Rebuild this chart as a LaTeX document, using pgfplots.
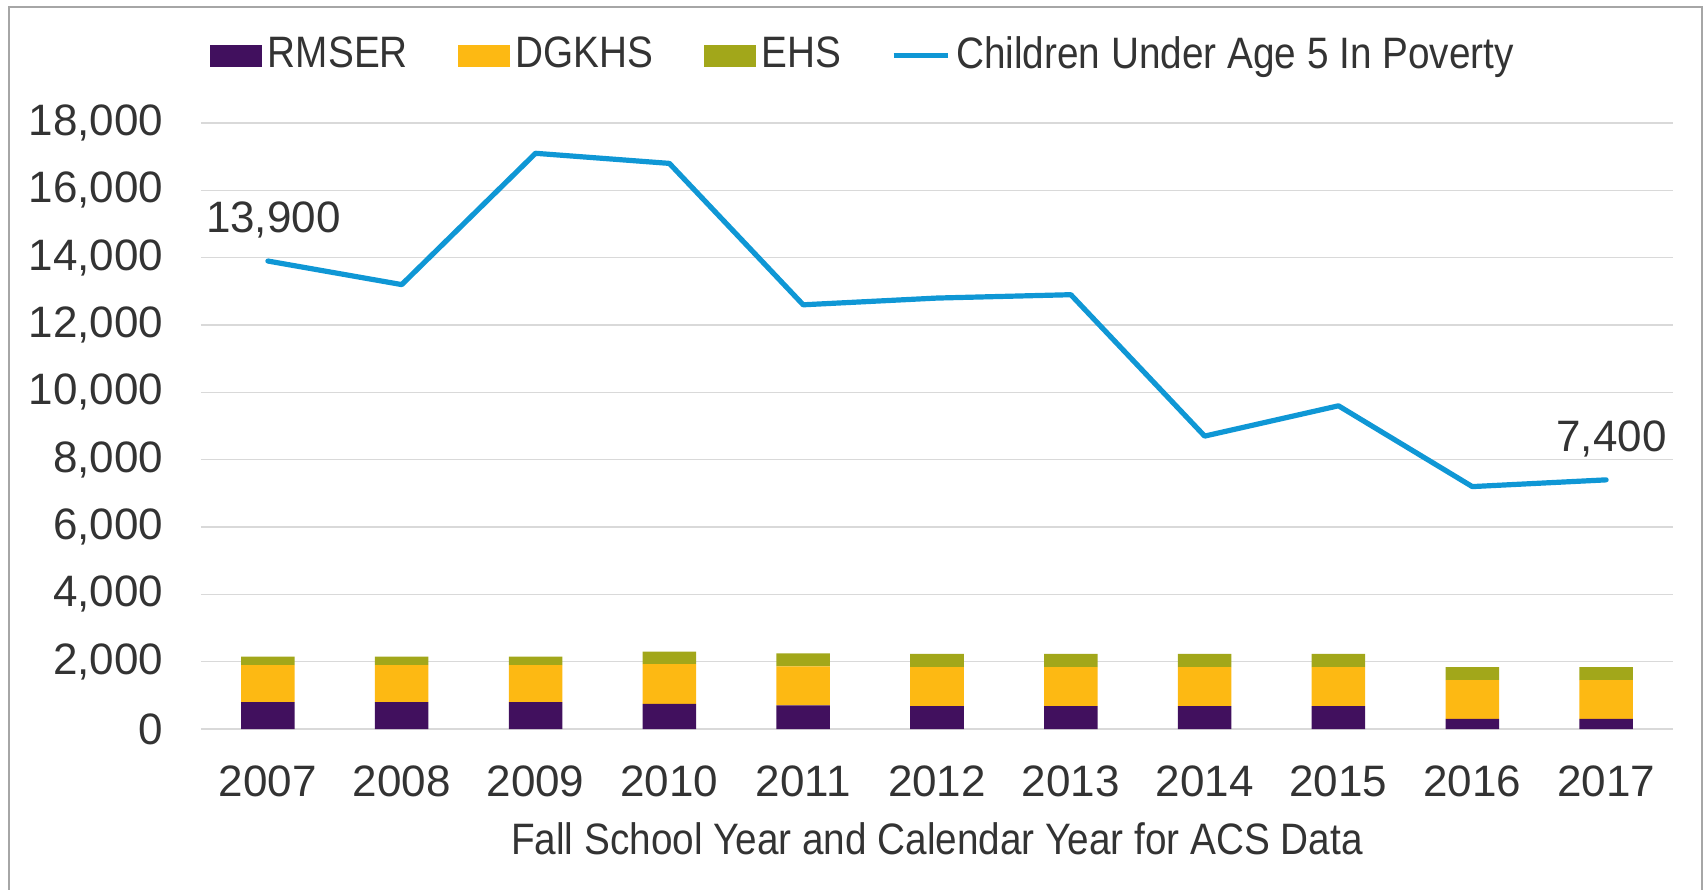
\documentclass[border=0pt]{standalone}
\usepackage{fontspec}
\setmainfont{Liberation Sans}[FakeStretch=0.88]
\newfontfamily\numfont{Liberation Sans}
\usepackage{pgfplots}
\pgfplotsset{compat=1.18}

\definecolor{rmser}{HTML}{41105E}
\definecolor{dgkhs}{HTML}{FDB913}
\definecolor{ehs}{HTML}{A2A71A}
\definecolor{poverty}{HTML}{0F97D5}
\definecolor{gridgray}{HTML}{D9D9D9}
\definecolor{framegray}{HTML}{A6A6A6}
\definecolor{textgray}{HTML}{333333}

\pgfplotsset{
  common/.style={
    at={(0pt,0pt)}, anchor=south west,
    width=736pt, height=303pt, scale only axis,
    xmin=-0.5, xmax=10.5, ymin=0, ymax=18000,
    scaled y ticks=false,
    /pgf/number format/.cd, 1000 sep={,}, assume math mode=true, /pgfplots/.cd,
  },
  barleg/.style={legend image code/.code={\fill[##1] (0pt,-5.5pt) rectangle (26pt,5.5pt);}},
  lineleg/.style={legend image code/.code={\draw[##1] (0pt,0pt) -- (27pt,0pt);}},
}

\begin{document}
\fontsize{22}{26}\selectfont
\color{textgray}
\begin{tikzpicture}
\useasboundingbox (-100.5pt,-80pt) rectangle (752.5pt,364.5pt);
\draw[framegray, line width=1pt] (-96pt,361pt) rectangle (750.5pt,-90pt);

% bars, grid, ticks, legend
\begin{axis}[
  common,
  ybar stacked, bar width=0.4,
  axis lines=left, axis line style={-},
  y axis line style={draw=none},
  x axis line style={draw=gridgray, line width=1pt},
  major tick length=0pt,
  ymajorgrids, grid style={draw=gridgray, line width=0.75pt},
  ytick={0,2000,...,18000},
  xtick={0,...,10},
  xticklabels={2007,2008,2009,2010,2011,2012,2013,2014,2015,2016,2017},
  tick label style={font=\numfont},
  yticklabel style={inner xsep=0pt, xshift=-18.6pt},
  xticklabel style={yshift=-10.7pt},
  xlabel={Fall School Year and Calendar Year for ACS Data},
  xlabel style={at={(axis description cs:0.5,0)}, anchor=center, yshift=-55pt},
  legend columns=4,
  legend style={draw=none, fill=none, inner sep=0pt, outer sep=0pt,
    at={(axis description cs:0.0061,1.111)}, anchor=west,
    nodes={inner sep=0pt},
    /tikz/every odd column/.append style={column sep=3pt},
    /tikz/every even column/.append style={column sep=25pt}},
]
\addplot[fill=rmser, draw=none, barleg] coordinates {
  (0,800) (1,800) (2,800) (3,750) (4,700) (5,680) (6,680) (7,680) (8,680) (9,300) (10,300)};
\addlegendentry{RMSER}
\addplot[fill=dgkhs, draw=none, barleg] coordinates {
  (0,1100) (1,1100) (2,1100) (3,1180) (4,1160) (5,1160) (6,1160) (7,1160) (8,1160) (9,1150) (10,1150)};
\addlegendentry{DGKHS}
\addplot[fill=ehs, draw=none, barleg] coordinates {
  (0,250) (1,250) (2,250) (3,370) (4,390) (5,390) (6,390) (7,390) (8,390) (9,390) (10,390)};
\addlegendentry{EHS}
\addlegendimage{poverty, line width=2.6pt, lineleg}
\addlegendentry{Children Under Age 5 In Poverty}
\end{axis}

% poverty line
\begin{axis}[common, hide axis, clip=false]
\addplot[poverty, line width=2.6pt, line join=round, line cap=round] coordinates {
  (0,13900) (1,13200) (2,17100) (3,16800) (4,12600) (5,12800)
  (6,12900) (7,8700) (8,9600) (9,7200) (10,7400)};
\addplot[draw=none, mark=none, nodes near coords, point meta=y,
  every node near coord/.append style={anchor=center, yshift=20.5pt, xshift=2.7pt,
    text=textgray, font=\numfont}]
  coordinates {(0,13900) (10,7400)};
\end{axis}
\end{tikzpicture}
\end{document}
